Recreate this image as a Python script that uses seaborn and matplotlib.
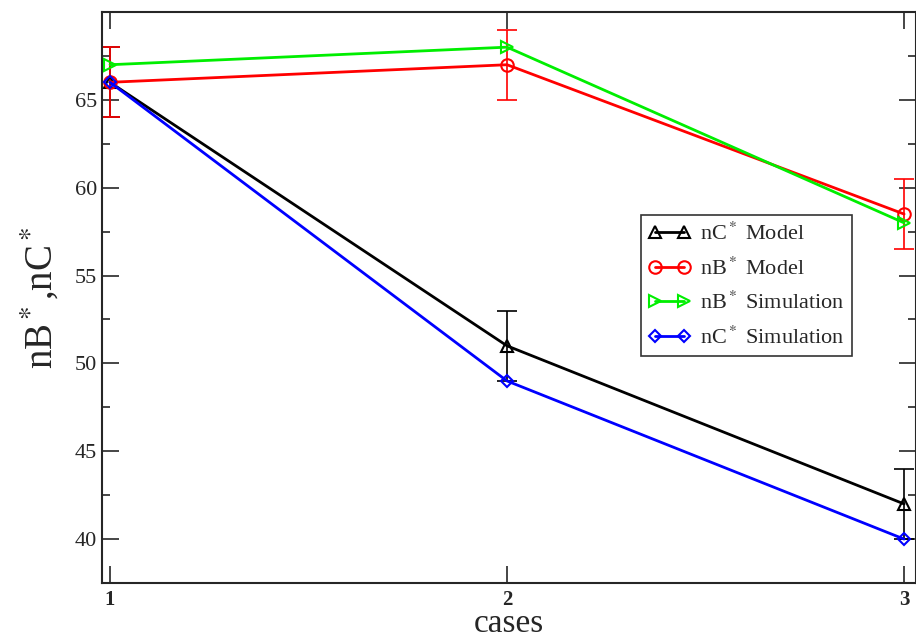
import matplotlib
matplotlib.use("Agg")
import matplotlib.pyplot as plt
import seaborn as sns
import pandas as pd

cases = [1, 2, 3]
nC_model = [66, 51, 42]
nB_model = [66, 67, 58.5]
nB_sim = [67, 68, 58]
nC_sim = [66, 49, 40]
err_model = [2, 2, 2]

series_names = ["nC$^*$ Model", "nB$^*$ Model", "nB$^*$ Simulation", "nC$^*$ Simulation"]
series_vals = [nC_model, nB_model, nB_sim, nC_sim]
colors = ["black", "red", "#00ee00", "blue"]
markers = ["^", "o", ">", "D"]
msizes = [8, 9, 8, 6]

sns.set_style("ticks")
plt.rcParams["font.family"] = ["Liberation Serif", "DejaVu Serif"]
plt.rcParams["mathtext.fontset"] = "stix"

fig = plt.figure(figsize=(9.16, 6.43), dpi=100)
ax = fig.add_axes([0.1114, 0.0933, 0.8886, 0.888])

rows = []
for name, vals in zip(series_names, series_vals):
    for c, v in zip(cases, vals):
        rows.append({"case": c, "value": v, "series": name})
df = pd.DataFrame(rows)

# error bars
ax.errorbar(cases, nC_model, yerr=err_model, fmt="none", ecolor="black",
            elinewidth=1.2, capsize=7, capthick=1.2, zorder=1)
ax.errorbar(cases, nB_model, yerr=err_model, fmt="none", ecolor="red",
            elinewidth=1.2, capsize=7, capthick=1.2, zorder=1)

for name, col, mk, ms in zip(series_names, colors, markers, msizes):
    sub = df[df["series"] == name]
    sns.lineplot(data=sub, x="case", y="value", ax=ax, color=col, marker=mk,
                 markersize=ms, markerfacecolor="none", markeredgecolor=col,
                 markeredgewidth=1.5, linewidth=2, label=name, zorder=3)

ax.set_xlim(0.98, 3.03)
ax.set_ylim(37.7, 70)
ax.set_xticks(cases)
ax.set_xticklabels([str(c) for c in cases], fontweight="bold", fontsize=15)
ax.set_yticks([40, 45, 50, 55, 60, 65])
ax.set_yticks([37.5 + 2.5 * i for i in range(0, 14) if (37.5 + 2.5 * i) % 5 != 0], minor=True)
ax.tick_params(axis="y", which="major", direction="in", length=12, width=1.2,
               labelsize=16, right=True, left=True)
ax.tick_params(axis="y", which="minor", direction="in", length=6, width=1.2,
               right=True, left=True)
ax.tick_params(axis="x", which="major", direction="in", length=12, width=1.2,
               top=True, bottom=True, pad=5)
for s in ax.spines.values():
    s.set_linewidth(1.5)

ax.set_xlabel("cases", fontsize=24, labelpad=-1)
ax.set_ylabel("nB$^*$,nC$^*$", fontsize=28, labelpad=10)

leg = ax.legend(loc="upper left", bbox_to_anchor=(0.662, 0.644), numpoints=2,
                fontsize=16, frameon=True, fancybox=False, edgecolor="black",
                handlelength=1.9, handletextpad=0.4, borderpad=0.35,
                labelspacing=0.55, borderaxespad=0)
leg.get_frame().set_linewidth(1.2)

fig.savefig("out.png", dpi=100)
